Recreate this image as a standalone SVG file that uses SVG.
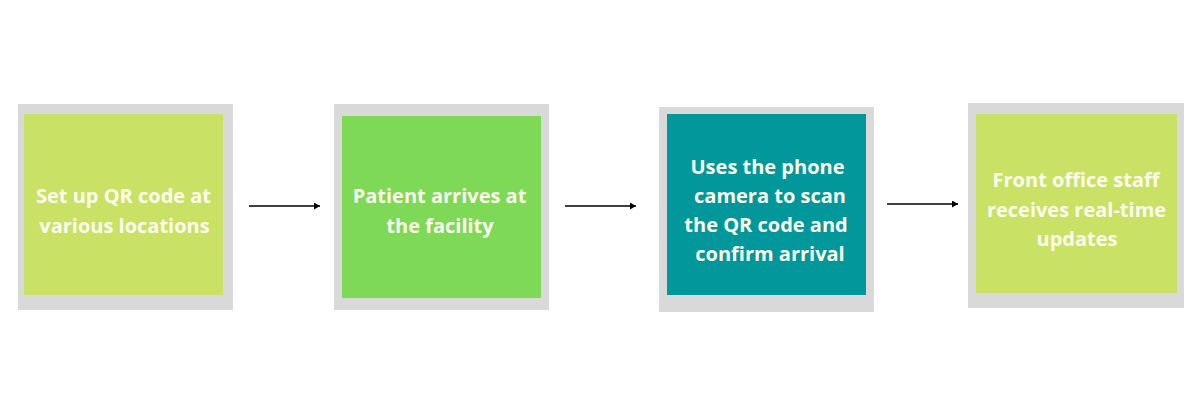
<svg xmlns="http://www.w3.org/2000/svg" width="1200" height="400" viewBox="0 0 1200 400">
  <defs>
    <marker id="ah" viewBox="0 0 6 7" refX="6" refY="3.5" markerWidth="6" markerHeight="7" markerUnits="userSpaceOnUse" orient="auto">
      <path d="M0,0 L6,3.5 L0,7 Z" fill="#000"/>
    </marker>
  </defs>
  <style>
    .frame { fill: #d9d9d9; }
    .lime { fill: #c9e265; }
    .green { fill: #7ed957; }
    .teal { fill: #02989b; }
    .lbl { font-family: "Open Sans", "Liberation Sans", sans-serif; font-weight: 700; font-size: 20px; fill: #fbfcec; text-anchor: middle; }
    .conn { stroke: #000; stroke-width: 1.6; fill: none; marker-end: url(#ah); }
  </style>
  <rect width="1200" height="400" fill="#ffffff"/>

  <g id="node1">
    <rect class="frame" x="18" y="104" width="215" height="206"/>
    <rect class="lime" x="24" y="114" width="199" height="181"/>
    <text class="lbl" x="123.5" y="203">Set up QR code at</text>
    <text class="lbl" x="124.5" y="233">various locations</text>
  </g>

  <g id="node2">
    <rect class="frame" x="334" y="104" width="215" height="206"/>
    <rect class="green" x="342" y="116" width="199" height="182"/>
    <text class="lbl" x="439.5" y="203">Patient arrives at</text>
    <text class="lbl" x="440" y="233">the facility</text>
  </g>

  <g id="node3">
    <rect class="frame" x="659" y="107" width="215" height="205"/>
    <rect class="teal" x="667" y="114" width="199" height="181"/>
    <text class="lbl" x="767.5" y="174">Uses the phone</text>
    <text class="lbl" x="770" y="203">camera to scan</text>
    <text class="lbl" x="766" y="232">the QR code and</text>
    <text class="lbl" x="770" y="261">confirm arrival</text>
  </g>

  <g id="node4">
    <rect class="frame" x="968" y="103" width="216" height="205"/>
    <rect class="lime" x="976" y="114" width="201" height="179"/>
    <text class="lbl" x="1076" y="187">Front office staff</text>
    <text class="lbl" x="1076.5" y="217">receives real-time</text>
    <text class="lbl" x="1077" y="246">updates</text>
  </g>

  <g id="connectors">
    <line class="conn" x1="249" y1="206" x2="320" y2="206"/>
    <line class="conn" x1="565" y1="206" x2="636" y2="206"/>
    <line class="conn" x1="887" y1="204" x2="958" y2="204"/>
  </g>
</svg>
